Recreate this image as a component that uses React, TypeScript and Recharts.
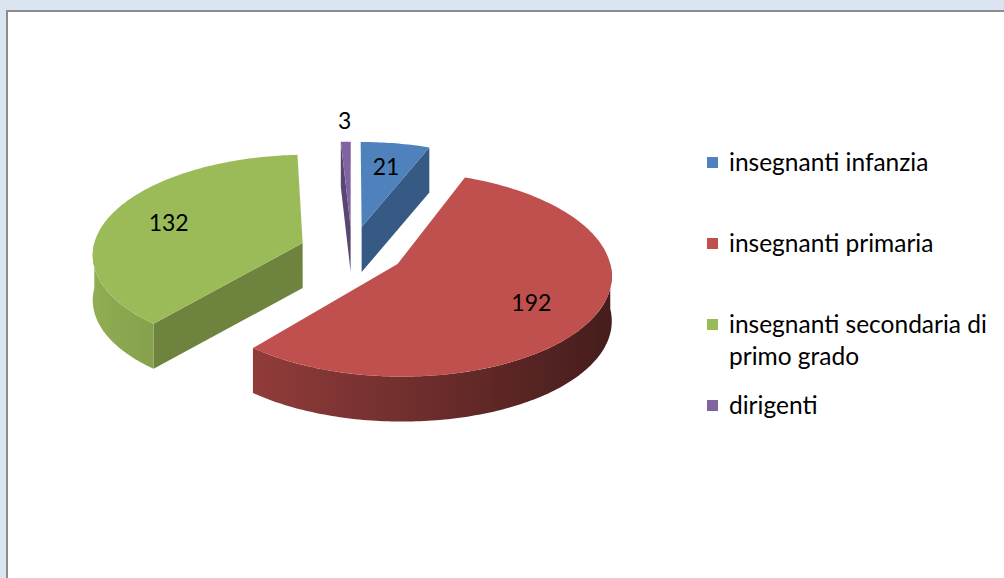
import React from "react";
import { PieChart, Pie, Cell, Legend } from "recharts";

const categories = [
  "insegnanti infanzia",
  "insegnanti primaria",
  "insegnanti secondaria di primo grado",
  "dirigenti",
];
const values = [21, 192, 132, 3];
const colors = ["#4f81bd", "#c0504d", "#9bbb59", "#8064a2"];

const data = categories.map((name, i) => ({ name, value: values[i] }));

const FONT = "Lato, 'Liberation Sans', sans-serif";
const RAD = Math.PI / 180;
const TILT = 0.476; // vertical squash of the disc
const PERSP = 0.1; // front looks bigger than back
const EXPLODE = 0.25; // share of the radius
const DEPTH = 45;

function shade(hex: string, k: number) {
  const n = parseInt(hex.slice(1), 16);
  const r = Math.round(((n >> 16) & 255) * k);
  const g = Math.round(((n >> 8) & 255) * k);
  const b = Math.round((n & 255) * k);
  return `rgb(${r},${g},${b})`;
}

function projector(cx: number, cy: number, rx: number, mid: number) {
  const ox = EXPLODE * Math.cos(mid * RAD);
  const oz = -EXPLODE * Math.sin(mid * RAD);
  const P = (X: number, Z: number, d = 0) => {
    const f = 1 + PERSP * Z;
    return [cx + X * rx * f, cy + Z * rx * TILT * f + d];
  };
  const rim = (a: number, d = 0, t = 1) =>
    P(ox + t * Math.cos(a * RAD), oz - t * Math.sin(a * RAD), d);
  const hub = (d = 0) => P(ox, oz, d);
  return { rim, hub };
}

const pts = (list: number[][]) =>
  list.map((p, i) => `${i ? "L" : "M"}${p[0].toFixed(2)},${p[1].toFixed(2)}`).join(" ") + " Z";

function Slice3D(props: any) {
  const { cx, cy, outerRadius, startAngle, endAngle, fill, index } = props;
  const mid = props.midAngle ?? (startAngle + endAngle) / 2;
  const { rim, hub } = projector(cx, cy, outerRadius, mid);

  const arc = (a1: number, a2: number, d: number) => {
    const n = Math.max(2, Math.ceil(Math.abs(a2 - a1)));
    const out: number[][] = [];
    for (let i = 0; i <= n; i++) out.push(rim(a1 + ((a2 - a1) * i) / n, d));
    return out;
  };

  const top = [hub(0), ...arc(startAngle, endAngle, 0)];
  const hi = Math.min(Math.max(startAngle, endAngle), 0);
  const lo = Math.max(Math.min(startAngle, endAngle), -180);
  const gid = `wall-${index}`;
  const side = shade(fill, 0.7);

  return (
    <g>
      <defs>
        <linearGradient
          id={gid}
          gradientUnits="userSpaceOnUse"
          x1={cx - 1.25 * outerRadius}
          x2={cx + 1.25 * outerRadius}
          y1={0}
          y2={0}
        >
          <stop offset="0" stopColor={shade(fill, 0.93)} />
          <stop offset="1" stopColor={shade(fill, 0.36)} />
        </linearGradient>
      </defs>
      {Math.cos(startAngle * RAD) < 0 && (
        <path d={pts([hub(0), rim(startAngle, 0), rim(startAngle, DEPTH), hub(DEPTH)])} fill={side} />
      )}
      {Math.cos(endAngle * RAD) > 0 && (
        <path d={pts([hub(0), rim(endAngle, 0), rim(endAngle, DEPTH), hub(DEPTH)])} fill={side} />
      )}
      {hi > lo && (
        <path d={pts([...arc(hi, lo, 0), ...arc(lo, hi, DEPTH)])} fill={`url(#${gid})`} />
      )}
      <path d={pts(top)} fill={fill} />
    </g>
  );
}

function renderLabel(props: any) {
  const { cx, cy, midAngle, outerRadius, percent, value } = props;
  const { rim } = projector(cx, cy, outerRadius, midAngle);
  const t = percent < 0.03 ? 1.3 : 0.7;
  const [x, y] = rim(midAngle, 0, t);
  return (
    <text
      x={x}
      y={y}
      textAnchor="middle"
      dominantBaseline="central"
      fontFamily={FONT}
      fontSize={23}
      fill="#000"
    >
      {value}
    </text>
  );
}

function LegendList({ payload }: any) {
  const items = [...(payload || [])].sort(
    (a: any, b: any) => categories.indexOf(a.value) - categories.indexOf(b.value)
  );
  return (
    <div style={{ fontFamily: FONT, fontSize: 24.5, lineHeight: "32px", color: "#000" }}>
      {items.map((p: any) => (
        <div key={p.value} style={{ height: 81, display: "flex", alignItems: "flex-start" }}>
          <span
            style={{
              width: 11,
              height: 11,
              background: p.color,
              marginTop: 11,
              marginRight: 11,
              flex: "none",
            }}
          />
          <span style={{ width: 275 }}>{p.value}</span>
        </div>
      ))}
    </div>
  );
}

export default function App() {
  return (
    <div
      style={{
        position: "fixed",
        left: 0,
        top: 0,
        width: 1004,
        height: 578,
        background: "#dbe5f1",
        overflow: "hidden",
      }}
    >
      <div
        style={{
          position: "absolute",
          left: 6,
          top: 10,
          width: 1100,
          height: 700,
          background: "#fff",
          border: "2px solid #8c8c8c",
        }}
      />
      <div style={{ position: "absolute", left: 0, top: 0 }}>
        <PieChart width={1004} height={578} margin={{ top: 0, right: 0, bottom: 0, left: 0 }}>
          <Pie
            data={data}
            dataKey="value"
            nameKey="name"
            cx={352}
            cy={251}
            outerRadius={210}
            startAngle={90}
            endAngle={-270}
            stroke="none"
            isAnimationActive={false}
            labelLine={false}
            label={renderLabel}
            shape={Slice3D}
            activeShape={Slice3D}
            inactiveShape={Slice3D}
          >
            {data.map((d, i) => (
              <Cell key={d.name} fill={colors[i]} />
            ))}
          </Pie>
          <Legend
            content={<LegendList />}
            itemSorter={null as any}
            wrapperStyle={{ position: "absolute", left: 707, top: 146, width: 297 }}
          />
        </PieChart>
      </div>
    </div>
  );
}
